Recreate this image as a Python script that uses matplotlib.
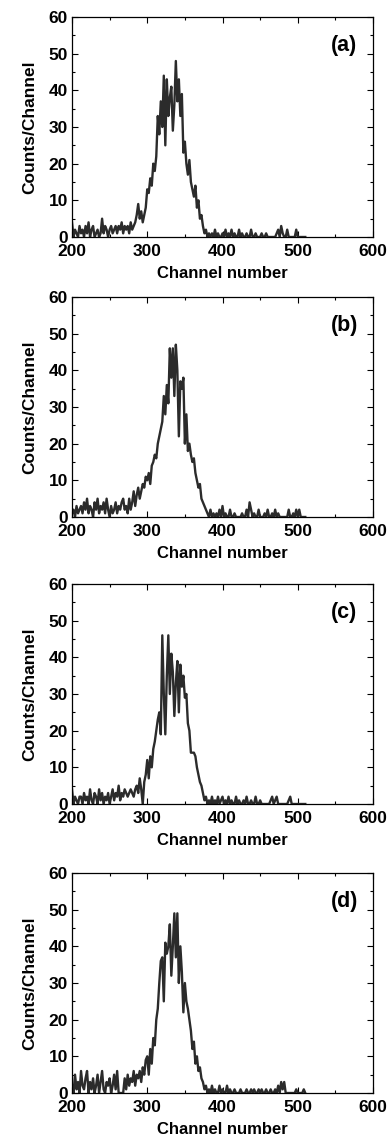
"""Four pulse-height spectra (a)-(d): counts per channel vs channel number."""
import numpy as np
import matplotlib
matplotlib.use("Agg")
import matplotlib.pyplot as plt
from matplotlib.ticker import MultipleLocator

plt.rcParams['font.family'] = ['Liberation Sans', 'DejaVu Sans']
plt.rcParams['font.weight'] = 'bold'

# ── data: counts, every 2nd channel from 200 to 510 ──
channels = np.arange(200, 512, 2)

counts_a = [
    4, 0, 2, 1, 0, 3, 1, 2, 0, 3,
    1, 4, 0, 2, 3, 0, 1, 2, 0, 1,
    5, 1, 3, 2, 0, 2, 3, 1, 2, 3,
    1, 3, 2, 4, 1, 3, 2, 3, 1, 4,
    2, 3, 4, 6, 9, 5, 7, 4, 6, 8,
    13, 12, 16, 14, 20, 18, 22, 33, 28, 37,
    30, 44, 25, 43, 33, 38, 41, 29, 36, 48,
    37, 43, 33, 39, 23, 26, 20, 17, 21, 15,
    13, 11, 14, 8, 10, 5, 6, 3, 1, 2,
    0, 1, 0, 1, 0, 2, 0, 1, 0, 0,
    1, 0, 2, 0, 1, 0, 2, 0, 1, 0,
    0, 2, 0, 1, 0, 0, 1, 0, 0, 2,
    0, 0, 1, 0, 0, 0, 1, 0, 0, 1,
    0, 0, 0, 0, 0, 0, 1, 2, 0, 3,
    1, 0, 0, 2, 0, 0, 0, 0, 0, 2,
    0, 0, 0, 0, 0, 0,
]

counts_b = [
    1, 2, 0, 3, 1, 2, 3, 1, 4, 2,
    5, 1, 3, 2, 0, 4, 2, 5, 1, 3,
    2, 4, 1, 5, 2, 0, 3, 1, 2, 4,
    1, 3, 2, 4, 5, 2, 3, 1, 5, 2,
    4, 7, 3, 6, 8, 5, 7, 9, 8, 11,
    10, 12, 9, 14, 15, 17, 16, 20, 22, 24,
    26, 33, 28, 36, 31, 46, 38, 46, 33, 47,
    40, 22, 37, 35, 38, 20, 28, 18, 20, 17,
    15, 16, 12, 10, 8, 9, 5, 4, 3, 2,
    1, 0, 2, 0, 1, 0, 1, 0, 2, 0,
    3, 0, 1, 0, 0, 2, 0, 0, 1, 0,
    0, 0, 0, 1, 0, 0, 2, 0, 4, 2,
    0, 1, 0, 0, 2, 0, 0, 0, 1, 0,
    2, 0, 0, 1, 0, 2, 0, 1, 0, 0,
    0, 0, 0, 0, 2, 0, 0, 1, 0, 2,
    0, 2, 0, 0, 0, 0,
]

counts_c = [
    4, 0, 2, 1, 0, 2, 2, 0, 3, 1,
    2, 0, 4, 1, 0, 3, 2, 0, 4, 1,
    3, 0, 2, 1, 3, 0, 2, 4, 1, 3,
    2, 5, 1, 3, 2, 4, 3, 2, 3, 4,
    3, 2, 4, 5, 3, 7, 4, 0, 6, 8,
    12, 7, 13, 10, 15, 17, 20, 23, 25, 19,
    46, 30, 19, 35, 46, 30, 41, 36, 24, 33,
    39, 25, 38, 32, 35, 29, 30, 22, 20, 14,
    14, 14, 13, 10, 8, 6, 5, 3, 1, 2,
    0, 1, 0, 2, 0, 1, 0, 2, 0, 1,
    2, 0, 1, 0, 2, 0, 1, 0, 0, 2,
    0, 1, 0, 0, 1, 0, 2, 0, 0, 1,
    0, 0, 2, 0, 0, 1, 0, 0, 0, 0,
    0, 0, 1, 2, 0, 1, 2, 0, 0, 0,
    0, 0, 0, 0, 1, 2, 0, 0, 0, 0,
    0, 0, 0, 0, 0, 0,
]

counts_d = [
    2, 0, 5, 1, 3, 0, 6, 2, 1, 4,
    6, 0, 3, 1, 4, 0, 2, 5, 0, 3,
    6, 1, 0, 3, 2, 4, 0, 2, 5, 1,
    6, 0, 0, 0, 0, 4, 1, 5, 2, 4,
    3, 6, 2, 5, 4, 6, 3, 7, 5, 9,
    10, 5, 12, 8, 15, 13, 20, 23, 30, 36,
    37, 25, 41, 38, 40, 46, 32, 40, 49, 37,
    49, 30, 40, 33, 22, 30, 25, 23, 20, 17,
    12, 14, 8, 10, 6, 7, 4, 3, 1, 2,
    0, 1, 0, 2, 0, 1, 0, 0, 2, 0,
    1, 0, 0, 2, 0, 1, 0, 0, 1, 0,
    0, 0, 1, 0, 0, 0, 1, 0, 0, 1,
    0, 1, 0, 0, 1, 0, 1, 0, 0, 1,
    0, 0, 1, 0, 0, 1, 0, 2, 0, 3,
    1, 3, 0, 0, 0, 0, 0, 0, 0, 1,
    0, 0, 0, 0, 1, 0,
]

panel_labels = ['(a)', '(b)', '(c)', '(d)']
spectra = [counts_a, counts_b, counts_c, counts_d]

# ── figure ──
W, H = 391, 1145
fig = plt.figure(figsize=(W / 100, H / 100), dpi=100)

# axes tops in pixels (from the reference)
tops = [17, 297, 584, 873]
ax_h = 220
left, width = 72, 301

for top, counts, lab in zip(tops, spectra, panel_labels):
    ax = fig.add_axes([left / W, 1 - (top + ax_h) / H, width / W, ax_h / H])
    ax.plot(channels, counts, color='#2b2b2b', linewidth=1.7)
    ax.set_xlim(200, 600)
    ax.set_ylim(0, 60)
    ax.xaxis.set_major_locator(MultipleLocator(100))
    ax.xaxis.set_minor_locator(MultipleLocator(50))
    ax.yaxis.set_major_locator(MultipleLocator(10))
    ax.yaxis.set_minor_locator(MultipleLocator(5))
    ax.tick_params(which='both', direction='in', top=True, right=True,
                   width=0.8, labelsize=12.5)
    ax.tick_params(which='major', length=4)
    ax.tick_params(which='minor', length=2.5)
    ax.tick_params(axis='x', pad=5)
    ax.tick_params(axis='y', pad=3)
    for t in ax.get_xticklabels() + ax.get_yticklabels():
        t.set_fontweight('bold')
    for s in ax.spines.values():
        s.set_linewidth(0.9)
    ax.set_xlabel('Channel number', fontsize=12, fontweight='bold', labelpad=5)
    ax.set_ylabel('Counts/Channel', fontsize=12.5, fontweight='bold', labelpad=8)
    ax.text(0.905, 0.87, lab, transform=ax.transAxes, fontsize=15.5,
            fontweight='bold', ha='center', va='center')

fig.savefig('out.png', dpi=100)
